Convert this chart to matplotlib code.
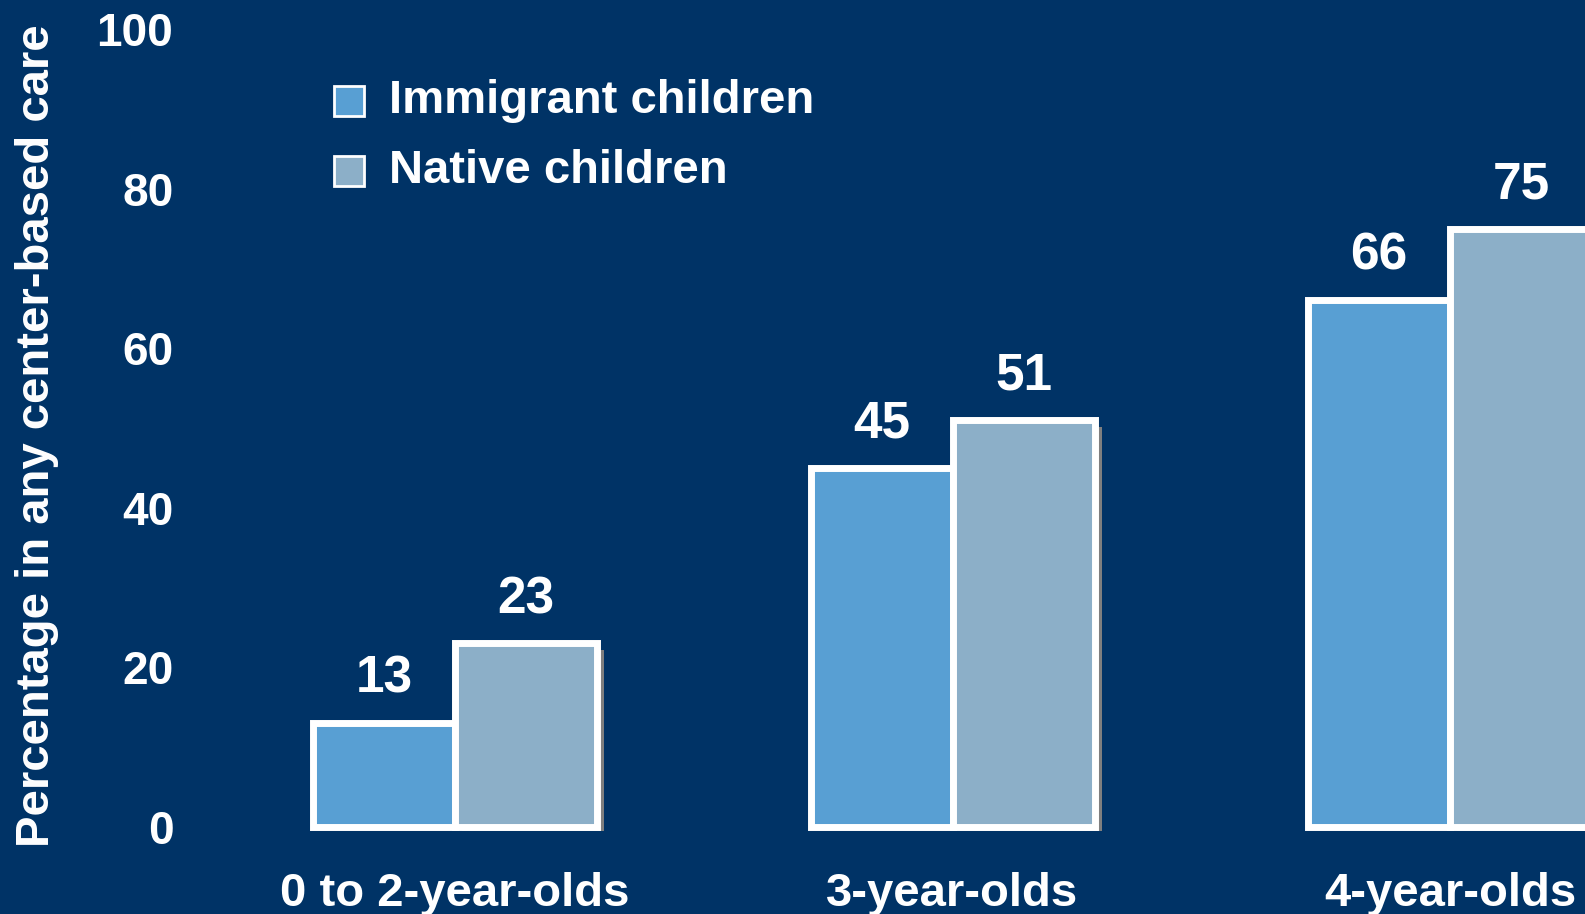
import matplotlib
matplotlib.use("Agg")
import matplotlib.pyplot as plt
from matplotlib.patches import Rectangle
import numpy as np

categories = ["0 to 2-year-olds", "3-year-olds", "4-year-olds"]
immigrant = [13, 45, 66]
native = [23, 51, 75]
series_names = ["Immigrant children", "Native children"]
yticks = [0, 20, 40, 60, 80, 100]

BG = "#003366"
C_IMM = "#589FD3"
C_NAT = "#8CAFC8"
SHADOW = "#7F7F7F"

W, H, DPI = 1585, 914, 100
fig = plt.figure(figsize=(W / DPI, H / DPI), dpi=DPI, facecolor=BG)

# axes placement (pixels)
ax_left_px, ax_bottom_px = 190, 60
ax = fig.add_axes([ax_left_px / W, ax_bottom_px / H, 1 - ax_left_px / W, 1 - ax_bottom_px / H])
ax.set_facecolor(BG)

px_per_x = 497.5
x0_px = 455  # center of first category
px_per_y = 7.98
y0_px_from_bottom = H - 827

ax.set_xlim((ax_left_px - x0_px) / px_per_x, (W - x0_px) / px_per_x)
ax.set_ylim((ax_bottom_px - y0_px_from_bottom) / px_per_y, (H - y0_px_from_bottom) / px_per_y)

x = np.arange(len(categories))
bw = 142 / px_per_x
sdx = 7 / px_per_x
sdy = 7 / px_per_y

# shadows
ax.bar(x + bw / 2 + sdx, np.array(native) - sdy + 0.44, width=bw, bottom=-0.44,
       color=SHADOW, linewidth=0, zorder=1)
ax.bar(x - bw / 2, immigrant, width=bw, color=C_IMM, edgecolor="white",
       linewidth=5, zorder=2)
ax.bar(x + bw / 2, native, width=bw, color=C_NAT, edgecolor="white",
       linewidth=5, zorder=2)

fam = ["Liberation Sans", "DejaVu Sans"]
for xs, vals in ((x - bw / 2, immigrant), (x + bw / 2, native)):
    for xi, v in zip(xs, vals):
        ax.annotate(str(v), (xi, v), xytext=(0, 14), textcoords="offset points",
                    ha="center", va="bottom", fontsize=37, family=fam,
                    weight="bold", color="white")

ax.set_yticks(yticks)
ax.set_yticklabels([str(t) for t in yticks])
ax.set_xticks(x)
ax.set_xticklabels(categories)
ax.tick_params(axis="y", length=0, pad=12, labelsize=33, labelcolor="white")
ax.tick_params(axis="x", length=0, pad=13, labelsize=34, labelcolor="white")
for lbl in ax.get_yticklabels() + ax.get_xticklabels():
    lbl.set_fontfamily(fam)
    lbl.set_fontweight("bold")
for s in ax.spines.values():
    s.set_visible(False)

# y-axis label
fig.text(37 / W, 1 - 436 / H, "Percentage in any center-based care",
         rotation=90, ha="center", va="center", color="white", fontsize=34,
         family=["Liberation Sans Narrow", "Liberation Sans", "DejaVu Sans"], weight="bold")

# legend
for i, (name, col) in enumerate(zip(series_names, [C_IMM, C_NAT])):
    cy = 101 + i * 70
    fig.patches.append(Rectangle((334 / W, 1 - (cy + 15) / H), 30 / W, 30 / H,
                                 transform=fig.transFigure, facecolor=col,
                                 edgecolor="white", linewidth=2))
    fig.text(389 / W, 1 - cy / H, name, ha="left", va="center", color="white",
             fontsize=34, family=fam, weight="bold")

fig.savefig("out.png", dpi=DPI, facecolor=BG)
